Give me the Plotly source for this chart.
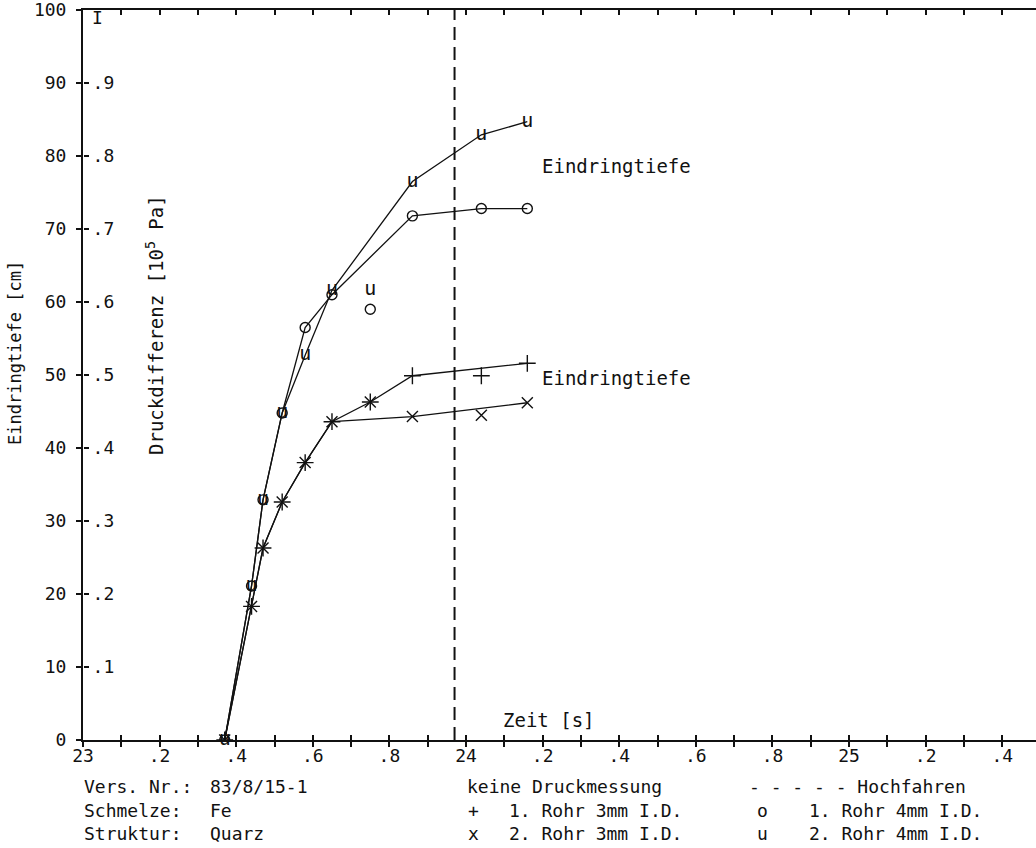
import plotly.graph_objects as go

# --- measured series: time [s] vs. penetration depth [cm] ---
# 2. Rohr 4mm I.D.  (marker "u")
t_u = [23.37, 23.44, 23.47, 23.52, 23.58, 23.65, 23.86, 24.04, 24.16]
d_u = [0.0, 21.1, 32.9, 44.8, 52.7, 61.6, 76.5, 82.9, 84.7]
# 1. Rohr 4mm I.D.  (marker "o")
t_o = [23.37, 23.44, 23.47, 23.52, 23.58, 23.65, 23.86, 24.04, 24.16]
d_o = [0.0, 21.1, 32.9, 44.8, 56.5, 61.0, 71.8, 72.8, 72.8]
# 1. Rohr 3mm I.D.  (marker "+")
t_p = [23.37, 23.44, 23.47, 23.52, 23.58, 23.65, 23.75, 23.86, 24.16]
d_p = [0.0, 18.3, 26.3, 32.6, 38.0, 43.6, 46.3, 49.9, 51.6]
# 2. Rohr 3mm I.D.  (marker "x")
t_x = [23.37, 23.44, 23.47, 23.52, 23.58, 23.65, 23.86, 24.16]
d_x = [0.0, 18.3, 26.3, 32.6, 38.0, 43.6, 44.3, 46.2]

# single, unconnected readings
t_u_single = [23.75]
d_u_single = [61.7]
t_o_single = [23.75]
d_o_single = [59.0]
t_p_single = [24.04]
d_p_single = [49.9]
t_x_single = [23.75, 24.04]
d_x_single = [46.3, 44.5]

# start of "Hochfahren"
t_hochfahren = 23.97

# axes
x_range = [23.0, 25.488]
x_tick_vals = [23.0, 23.1, 23.2, 23.3, 23.4, 23.5, 23.6, 23.7, 23.8, 23.9,
               24.0, 24.1, 24.2, 24.3, 24.4, 24.5, 24.6, 24.7, 24.8, 24.9,
               25.0, 25.1, 25.2, 25.3, 25.4]
x_tick_text = ["23", "", ".2", "", ".4", "", ".6", "", ".8", "",
               "24", "", ".2", "", ".4", "", ".6", "", ".8", "",
               "25", "", ".2", "", ".4"]
y_tick_vals = [0, 10, 20, 30, 40, 50, 60, 70, 80, 90, 100]
y_tick_text = ["0", "10", "20", "30", "40", "50", "60", "70", "80", "90", "100"]
p_tick_vals = [0.1, 0.2, 0.3, 0.4, 0.5, 0.6, 0.7, 0.8, 0.9]
p_tick_text = [".1", ".2", ".3", ".4", ".5", ".6", ".7", ".8", ".9"]

FONT = "DejaVu Sans Mono"
INK = "#111111"
W, H = 1036, 848
L, R, T, B = 83, 0, 10, 108


def px(xp):
    return (xp - L) / (W - L - R)


def py(yp):
    return (H - B - yp) / (H - T - B)


fig = go.Figure()

line_style = dict(color=INK, width=1.3)
u_font = dict(family=FONT, size=20, color=INK)
o_marker = dict(symbol="circle-open", size=10, color=INK, line=dict(width=1.4, color=INK))
p_marker = dict(symbol="cross-thin-open", size=12, color=INK, line=dict(width=1.4, color=INK))
x_marker = dict(symbol="x-thin-open", size=11, color=INK, line=dict(width=1.4, color=INK))

fig.add_trace(go.Scatter(x=t_u, y=d_u, mode="lines+text", text=["u"] * len(t_u),
                         textposition="middle center", textfont=u_font,
                         line=line_style, cliponaxis=False, showlegend=False))
fig.add_trace(go.Scatter(x=t_o, y=d_o, mode="lines+markers", line=line_style,
                         marker=o_marker, showlegend=False))
fig.add_trace(go.Scatter(x=t_p, y=d_p, mode="lines+markers", line=line_style,
                         marker=p_marker, showlegend=False))
fig.add_trace(go.Scatter(x=t_x, y=d_x, mode="lines+markers", line=line_style,
                         marker=x_marker, showlegend=False))

# isolated readings
fig.add_trace(go.Scatter(x=t_u_single, y=d_u_single, mode="text", text=["u"] * len(t_u_single),
                         textposition="middle center", textfont=u_font, showlegend=False))
fig.add_trace(go.Scatter(x=t_o_single, y=d_o_single, mode="markers", marker=o_marker,
                         showlegend=False))
fig.add_trace(go.Scatter(x=t_p_single, y=d_p_single, mode="markers", marker=p_marker,
                         showlegend=False))
fig.add_trace(go.Scatter(x=t_x_single, y=d_x_single, mode="markers", marker=x_marker,
                         showlegend=False))

# Hochfahren marker line
fig.add_trace(go.Scatter(x=[t_hochfahren, t_hochfahren], y=[0, 100], mode="lines",
                         line=dict(color=INK, width=2, dash="13px,7px"),
                         showlegend=False))

# invisible carriers so the secondary axes are drawn
fig.add_trace(go.Scatter(x=[x_range[0]], y=[0], yaxis="y2", mode="markers",
                         marker=dict(opacity=0), showlegend=False, hoverinfo="skip"))
fig.add_trace(go.Scatter(x=[x_range[0]], y=[0], xaxis="x2", mode="markers",
                         marker=dict(opacity=0), showlegend=False, hoverinfo="skip"))

tick_font = dict(family=FONT, size=18, color=INK)

fig.update_layout(
    width=W, height=H,
    margin=dict(l=L, r=R, t=T, b=B, pad=0),
    paper_bgcolor="white", plot_bgcolor="white",
    font=dict(family=FONT, size=18, color=INK),
    xaxis=dict(range=x_range, tickmode="array", tickvals=x_tick_vals, ticktext=x_tick_text,
               ticks="outside", ticklen=5, tickwidth=1.5, tickcolor=INK,
               showline=True, linecolor=INK, linewidth=1.5, showgrid=False, zeroline=False,
               tickfont=tick_font, ticklabelstandoff=-6, ticklabeloverflow="allow"),
    xaxis2=dict(range=x_range, overlaying="x", matches="x", tickmode="array",
                tickvals=x_tick_vals, ticks="inside", ticklen=5, tickwidth=1.5, tickcolor=INK,
                showticklabels=False, showline=True, linecolor=INK, linewidth=1.5,
                mirror="ticks", showgrid=False, zeroline=False, anchor="y"),
    yaxis=dict(range=[0, 100], tickmode="array", tickvals=y_tick_vals, ticktext=y_tick_text,
               ticks="outside", ticklen=5, tickwidth=1.5, tickcolor=INK,
               showline=True, linecolor=INK, linewidth=2, showgrid=False, zeroline=False,
               tickfont=tick_font, ticklabelstandoff=6, ticklabeloverflow="allow"),
    # pressure scale: drawn on the same vertical line, ticks and labels facing into the plot
    yaxis2=dict(range=[0, 1], overlaying="y", side="right", anchor="free", position=0,
                tickmode="array", tickvals=p_tick_vals, ticktext=p_tick_text,
                ticks="outside", ticklen=5, tickwidth=1.5, tickcolor=INK,
                showline=False, showgrid=False, zeroline=False, tickfont=tick_font,
                ticklabelstandoff=0, ticklabeloverflow="allow"),
)

ann = []


def text(x, y, s, size=18, xanchor="left", angle=0):
    ann.append(dict(x=px(x), y=py(y), xref="paper", yref="paper", text=s, showarrow=False,
                    xanchor=xanchor, yanchor="middle", textangle=angle,
                    font=dict(family=FONT, size=size, color=INK)))


# axis titles
text(15, 353, "Eindringtiefe [cm]", size=17, xanchor="center", angle=-90)
text(155, 325, "Druckdifferenz [10<sup>5</sup> Pa]", size=19, xanchor="center", angle=-90)
text(97, 18, "I", size=18, xanchor="center")

# curve labels (data coordinates)
for yv in (78.6, 49.6):
    ann.append(dict(x=24.193, y=yv, xref="x", yref="y", text="Eindringtiefe", showarrow=False,
                    xanchor="left", yanchor="middle", font=dict(family=FONT, size=19, color=INK)))
ann.append(dict(x=24.09, y=2.7, xref="x", yref="y", text="Zeit [s]", showarrow=False,
                xanchor="left", yanchor="middle", font=dict(family=FONT, size=19, color=INK)))

# experiment info block
text(82, 787, "Vers. Nr.:")
text(82, 810, "Schmelze:")
text(82, 833, "Struktur:")
text(208, 787, "83/8/15-1")
text(208, 810, "Fe")
text(208, 833, "Quarz")

# symbol key
text(465, 787, "keine Druckmessung")
text(466, 810, "+")
text(466, 833, "x")
text(507, 810, "1. Rohr 3mm I.D.")
text(507, 833, "2. Rohr 3mm I.D.")
text(747, 787, "- - - - - Hochfahren")
text(755, 810, "o")
text(755, 833, "u")
text(807, 810, "1. Rohr 4mm I.D.")
text(807, 833, "2. Rohr 4mm I.D.")

fig.update_layout(annotations=ann)

fig.write_html("out.html")
